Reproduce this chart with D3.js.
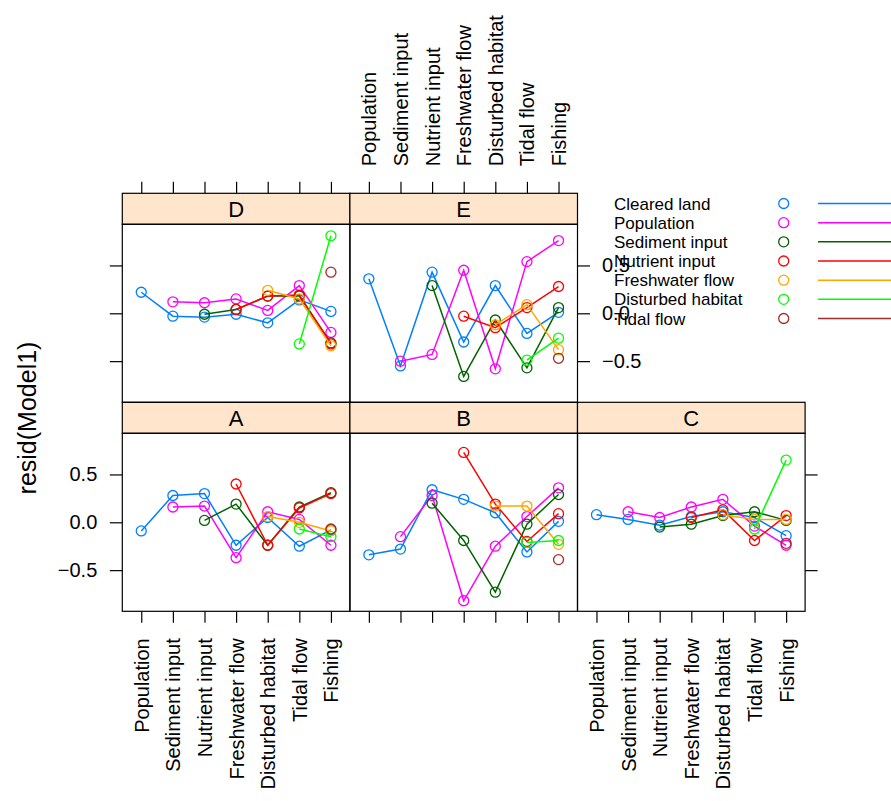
<!DOCTYPE html>
<html>
<head>
<meta charset="utf-8">
<script src="https://cdn.jsdelivr.net/npm/d3@7"></script>
<style>
  body { margin: 0; background: #fff; }
  svg { font-family: "Liberation Sans", Arial, sans-serif; }
</style>
</head>
<body>
<svg id="chart" width="891" height="801"></svg>
<script>
// x axis categories and grouping variable
var categories = ["Population", "Sediment input", "Nutrient input", "Freshwater flow",
                  "Disturbed habitat", "Tidal flow", "Fishing"];
var groups = ["Cleared land", "Population", "Sediment input", "Nutrient input",
              "Freshwater flow", "Disturbed habitat", "Tidal flow"];
var groupColors = ["#0080ff", "#ff00ff", "#006400", "#ff0000", "#ffa500", "#00ff00", "#a52a2a"];
var yTicks = [-0.5, 0, 0.5];

// residuals, one row per group (null = no observation)
var residA = [
  [-0.09, 0.28, 0.30, -0.24, 0.05, -0.25, -0.08],
  [null, 0.16, 0.17, -0.37, 0.11, 0.03, -0.24],
  [null, null, 0.02, 0.19, -0.24, 0.16, 0.31],
  [null, null, null, 0.40, -0.24, 0.15, 0.30],
  [null, null, null, null, 0.06, 0.00, -0.09],
  [null, null, null, null, null, -0.07, -0.15],
  [null, null, null, null, null, null, -0.07]
];
var residB = [
  [-0.34, -0.28, 0.34, 0.24, 0.10, -0.31, 0.01],
  [null, -0.15, 0.28, -0.82, -0.25, 0.06, 0.36],
  [null, null, 0.20, -0.19, -0.73, -0.02, 0.29],
  [null, null, null, 0.73, 0.19, -0.20, 0.09],
  [null, null, null, null, 0.17, 0.17, -0.23],
  [null, null, null, null, null, -0.21, -0.19],
  [null, null, null, null, null, null, -0.39]
];
var residC = [
  [0.08, 0.03, -0.03, 0.06, 0.11, 0.05, -0.14],
  [null, 0.11, 0.05, 0.16, 0.24, -0.04, -0.24],
  [null, null, -0.05, -0.02, 0.07, 0.11, 0.02],
  [null, null, null, 0.05, 0.13, -0.19, 0.07],
  [null, null, null, null, 0.08, 0.03, 0.03],
  [null, null, null, null, null, -0.07, 0.65],
  [null, null, null, null, null, null, -0.22]
];
var residD = [
  [0.22, -0.03, -0.04, -0.01, -0.10, 0.14, 0.02],
  [null, 0.12, 0.11, 0.15, 0.03, 0.29, -0.20],
  [null, null, -0.01, 0.04, 0.18, 0.18, -0.31],
  [null, null, null, 0.04, 0.18, 0.19, -0.32],
  [null, null, null, null, 0.24, 0.15, -0.34],
  [null, null, null, null, null, -0.32, 0.81],
  [null, null, null, null, null, null, 0.43]
];
var residE = [
  [0.36, -0.55, 0.43, -0.30, 0.29, -0.21, 0.01],
  [null, -0.50, -0.43, 0.45, -0.58, 0.54, 0.76],
  [null, null, 0.29, -0.66, -0.07, -0.57, 0.06],
  [null, null, null, -0.03, -0.15, 0.06, 0.28],
  [null, null, null, null, -0.12, 0.09, -0.38],
  [null, null, null, null, null, -0.49, -0.26],
  [null, null, null, null, null, null, -0.47]
];

var left = 122.3, pw = 227.6, stripH = 31, bodyH = 178;
var topRow = 193.3, bottomRow = topRow + stripH + bodyH;
var tickLen = 11.5;

// panel layout: col, row, which axes
var panels = [
  {name: "A", data: residA, col: 0, top: bottomRow, bottom: "lab", left: "lab"},
  {name: "B", data: residB, col: 1, top: bottomRow, bottom: "tick"},
  {name: "C", data: residC, col: 2, top: bottomRow, bottom: "lab", right: "tick"},
  {name: "D", data: residD, col: 0, top: topRow, topAx: "tick", left: "tick"},
  {name: "E", data: residE, col: 1, top: topRow, topAx: "lab", right: "lab"}
];

var svg = d3.select("#chart");
var x = d3.scaleLinear().domain([0.4, 7.6]).range([0, pw]);
var y = d3.scaleLinear().domain([-0.93, 0.93]).range([bodyH, 0]);
var xTickVals = d3.range(1, categories.length + 1);
var fmt = d3.format(".1f");

var line = d3.line()
  .defined(function(d){ return d.v !== null; })
  .x(function(d){ return x(d.i + 1); })
  .y(function(d){ return y(d.v); });

panels.forEach(function(p){
  var g = svg.append("g").attr("transform", "translate(" + (left + p.col * pw) + "," + p.top + ")");

  g.append("rect").attr("x", 0).attr("y", 0).attr("width", pw).attr("height", stripH)
    .style("fill", "#ffe5cc").style("stroke", "#000").style("stroke-width", 1.2);
  g.append("text").attr("x", pw / 2).attr("y", stripH / 2).attr("dy", "0.36em")
    .attr("text-anchor", "middle").style("font-size", "22px").text(p.name);

  var body = g.append("g").attr("transform", "translate(0," + stripH + ")");
  p.data.forEach(function(vals, gi){
    var pts = vals.map(function(v, i){ return {i: i, v: v}; });
    body.append("path").datum(pts).attr("d", line)
      .style("fill", "none").style("stroke", groupColors[gi]).style("stroke-width", 1.5);
    body.selectAll(null).data(pts.filter(function(d){ return d.v !== null; }))
      .enter().append("circle")
      .attr("cx", function(d){ return x(d.i + 1); })
      .attr("cy", function(d){ return y(d.v); })
      .attr("r", 5)
      .style("fill", "none").style("stroke", groupColors[gi]).style("stroke-width", 1.3);
  });
  body.append("rect").attr("width", pw).attr("height", bodyH)
    .style("fill", "none").style("stroke", "#000").style("stroke-width", 1.2);

  // axes
  if (p.bottom) {
    var ab = body.append("g").attr("transform", "translate(0," + bodyH + ")")
      .call(d3.axisBottom(x).tickValues(xTickVals).tickSize(tickLen).tickSizeOuter(0)
        .tickFormat(function(d){ return p.bottom == "lab" ? categories[d - 1] : ""; }));
    ab.selectAll("text").attr("transform", "rotate(-90)").attr("x", -27).attr("y", 0)
      .attr("dy", "0.35em").attr("text-anchor", "end");
  }
  if (p.topAx) {
    var at = g.append("g")
      .call(d3.axisTop(x).tickValues(xTickVals).tickSize(tickLen).tickSizeOuter(0)
        .tickFormat(function(d){ return p.topAx == "lab" ? categories[d - 1] : ""; }));
    at.selectAll("text").attr("transform", "rotate(-90)").attr("x", 27).attr("y", 0)
      .attr("dy", "0.35em").attr("text-anchor", "start");
  }
  if (p.left) {
    var al = body.append("g")
      .call(d3.axisLeft(y).tickValues(yTicks).tickSize(tickLen + 1).tickSizeOuter(0)
        .tickFormat(function(d){ return p.left == "lab" ? fmt(d) : ""; }));
    al.selectAll("text").attr("x", -25);
  }
  if (p.right) {
    var ar = body.append("g").attr("transform", "translate(" + pw + ",0)")
      .call(d3.axisRight(y).tickValues(yTicks).tickSize(tickLen + 1).tickSizeOuter(0)
        .tickFormat(function(d){ return p.right == "lab" ? fmt(d) : ""; }));
    ar.selectAll("text").attr("x", 24.5);
  }
});

svg.selectAll(".domain").remove();
svg.selectAll(".tick line").style("stroke", "#000").style("stroke-width", 1.2);
svg.selectAll(".tick text").style("font-size", "20px").style("font-family", "Liberation Sans, Arial, sans-serif")
  .style("fill", "#000");

// y label
svg.append("text").attr("transform", "translate(36,418) rotate(-90)")
  .attr("text-anchor", "middle").style("font-size", "25px").text("resid(Model1)");

// legend
var legend = svg.append("g");
groups.forEach(function(name, i){
  var ly = 203.5 + i * 19.17;
  legend.append("text").attr("x", 614).attr("y", ly).attr("dy", "0.36em")
    .style("font-size", "17px").text(name);
  legend.append("circle").attr("cx", 783.7).attr("cy", ly).attr("r", 5)
    .style("fill", "none").style("stroke", groupColors[i]).style("stroke-width", 1.3);
  legend.append("line").attr("x1", 818).attr("x2", 891).attr("y1", ly).attr("y2", ly)
    .style("stroke", groupColors[i]).style("stroke-width", 1.5);
});
</script>
</body>
</html>
